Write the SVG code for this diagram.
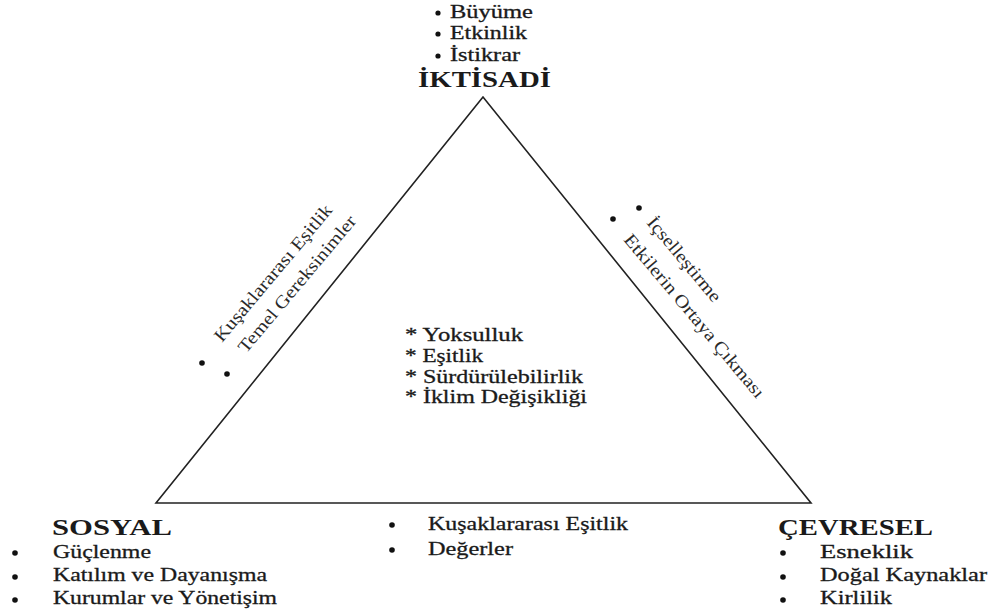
<svg xmlns="http://www.w3.org/2000/svg" width="993" height="612" viewBox="0 0 993 612">
<style>
  text { font-family: 'Liberation Serif', 'DejaVu Serif', serif; fill: #1a1a1a; }
  .b { font-size: 19px; stroke: #1a1a1a; stroke-width: 0.3; }
  .t { font-size: 18px; stroke: #1a1a1a; stroke-width: 0.3; }
  .h { font-size: 23px; font-weight: bold; }
  .r { font-size: 18px; fill: #2a2a2a; }
  .dot { fill: #111; }
  .edge { fill: none; stroke: #222; stroke-width: 1.6; stroke-linejoin: miter; }
</style>
<rect width="993" height="612" fill="#ffffff"/>

<g id="connectors">
  <polygon class="edge" points="483,97 156,503 811,503"/>
</g>

<g id="iktisadi">
  <circle class="dot" cx="438" cy="13" r="2.6"/>
  <circle class="dot" cx="438" cy="34" r="2.6"/>
  <circle class="dot" cx="438" cy="56" r="2.6"/>
  <text class="t" x="450" y="18" textLength="83" lengthAdjust="spacingAndGlyphs">Büyüme</text>
  <text class="t" x="450" y="39" textLength="77" lengthAdjust="spacingAndGlyphs">Etkinlik</text>
  <text class="t" x="450" y="61" textLength="70" lengthAdjust="spacingAndGlyphs">İstikrar</text>
  <text class="h" x="418" y="87" textLength="133" lengthAdjust="spacingAndGlyphs">İKTİSADİ</text>
</g>

<g id="center">
  <text class="b" x="405" y="341" textLength="118" lengthAdjust="spacingAndGlyphs">* Yoksulluk</text>
  <text class="b" x="405" y="362" textLength="78" lengthAdjust="spacingAndGlyphs">* Eşitlik</text>
  <text class="b" x="405" y="383" textLength="178" lengthAdjust="spacingAndGlyphs">* Sürdürülebilirlik</text>
  <text class="b" x="405" y="403" textLength="182" lengthAdjust="spacingAndGlyphs">* İklim Değişikliği</text>
</g>

<g id="sosyal">
  <text class="h" x="52" y="535" textLength="120" lengthAdjust="spacingAndGlyphs">SOSYAL</text>
  <circle class="dot" cx="15" cy="553" r="2.8"/>
  <circle class="dot" cx="15" cy="577" r="2.8"/>
  <circle class="dot" cx="15" cy="600" r="2.8"/>
  <text class="b" x="53" y="558" textLength="98" lengthAdjust="spacingAndGlyphs">Güçlenme</text>
  <text class="b" x="53" y="581" textLength="214" lengthAdjust="spacingAndGlyphs">Katılım ve Dayanışma</text>
  <text class="b" x="53" y="604" textLength="224" lengthAdjust="spacingAndGlyphs">Kurumlar ve Yönetişim</text>
</g>

<g id="bottom-edge">
  <circle class="dot" cx="392" cy="525" r="2.8"/>
  <circle class="dot" cx="392" cy="550" r="2.8"/>
  <text class="b" x="428" y="530" textLength="200" lengthAdjust="spacingAndGlyphs">Kuşaklararası Eşitlik</text>
  <text class="b" x="428" y="555" textLength="85" lengthAdjust="spacingAndGlyphs">Değerler</text>
</g>

<g id="cevresel">
  <text class="h" x="778" y="535" textLength="155" lengthAdjust="spacingAndGlyphs">ÇEVRESEL</text>
  <circle class="dot" cx="783" cy="553" r="2.8"/>
  <circle class="dot" cx="783" cy="577" r="2.8"/>
  <circle class="dot" cx="783" cy="600" r="2.8"/>
  <text class="b" x="820" y="558" textLength="93" lengthAdjust="spacingAndGlyphs">Esneklik</text>
  <text class="b" x="820" y="581" textLength="167" lengthAdjust="spacingAndGlyphs">Doğal Kaynaklar</text>
  <text class="b" x="820" y="604" textLength="72" lengthAdjust="spacingAndGlyphs">Kirlilik</text>
</g>

<g id="left-edge">
  <circle class="dot" cx="202" cy="363" r="2.8"/>
  <circle class="dot" cx="227" cy="374" r="2.8"/>
  <text class="r" transform="translate(222,343) rotate(-50)" textLength="173" lengthAdjust="spacingAndGlyphs">Kuşaklararası Eşitlik</text>
  <text class="r" transform="translate(246,354) rotate(-50)" textLength="173" lengthAdjust="spacingAndGlyphs">Temel Gereksinimler</text>
</g>

<g id="right-edge">
  <circle class="dot" cx="639" cy="208" r="2.8"/>
  <circle class="dot" cx="613" cy="219" r="2.8"/>
  <text class="r" transform="translate(646,223) rotate(50)" textLength="105" lengthAdjust="spacingAndGlyphs">İçselleştirme</text>
  <text class="r" transform="translate(623,240) rotate(50)" textLength="208" lengthAdjust="spacingAndGlyphs">Etkilerin  Ortaya Çıkması</text>
</g>
</svg>
